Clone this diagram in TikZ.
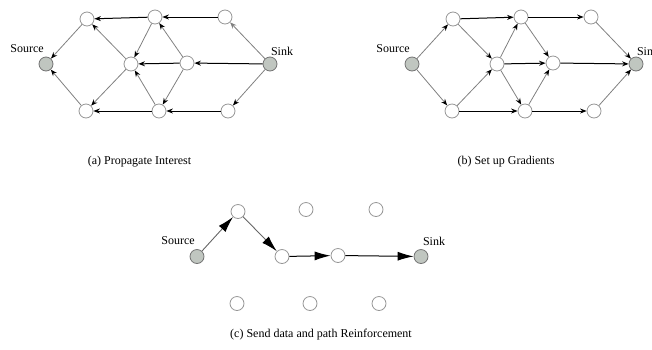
\documentclass[tikz,border=0pt]{standalone}
\usepackage{fontspec}
\setmainfont{Liberation Serif}
\usepackage{xcolor}
\usepackage{tikz}
\usetikzlibrary{arrows.meta}

\definecolor{endfill}{RGB}{192,198,192}
\definecolor{ringgray}{RGB}{150,150,150}

\begin{document}
\begin{tikzpicture}[x=1pt, y=-1pt,
    sensor/.style={circle, draw=ringgray, fill=white, line width=0.8pt,
      minimum size=14pt, inner sep=0pt},
    endpt/.style={sensor, fill=endfill, draw=gray!90!black},
    tag/.style={font=\fontsize{12pt}{14pt}\selectfont, inner sep=0pt},
    weak/.style={draw=gray, line width=0.8pt,
      -{Stealth[length=6.5pt, width=5pt, color=black]}},
    faint/.style={weak, -{Stealth[length=6.5pt, width=5pt, color=gray]}},
    strong/.style={draw=black, line width=1pt,
      -{Stealth[length=6.5pt, width=5pt]}},
    bigweak/.style={draw=gray!80!black, line width=0.9pt,
      -{Latex[length=16pt, width=9pt, color=black]}},
    bigstrong/.style={draw=black, line width=1pt,
      -{Latex[length=16pt, width=9pt]}}]
  \useasboundingbox (0,0) rectangle (652,349);

  % (a) Propagate Interest
  \node[endpt]  (asrc) at (46,64)  {};
  \node[sensor] (atl)  at (87,19)  {};
  \node[sensor] (atm)  at (155,17) {};
  \node[sensor] (atr)  at (225,17) {};
  \node[sensor] (actr) at (131,64) {};
  \node[sensor] (amr)  at (187,63) {};
  \node[endpt]  (asnk) at (270,64) {};
  \node[sensor] (abl)  at (86,111) {};
  \node[sensor] (abm)  at (159,111) {};
  \node[sensor] (abr)  at (228,111) {};
  \node[tag] (asrclbl) at ([shift={(-19,-15)}]asrc) {Source};
  \node[tag] (asnklbl) at ([shift={(12,-13)}]asnk) {Sink};

  \draw[strong] (atm) -- (atl);
  \draw[strong] (atr) -- (atm);
  \draw[faint]  (asnk) -- (atr);
  \draw[weak]   (atl) -- (asrc);
  \draw[weak]   (actr) -- (atl);
  \draw[weak]   (atm) -- (actr);
  \draw[weak]   (amr) -- (atm);
  \draw[strong] (amr) -- (actr);
  \draw[strong] (asnk) -- (amr);
  \draw[weak]   (actr) -- (abl);
  \draw[weak]   (abl) -- (asrc);
  \draw[strong] (abm) -- (abl);
  \draw[strong] (abr) -- (abm);
  \draw[weak]   (asnk) -- (abr);
  \draw[weak]   (abm) -- (actr);
  \draw[weak]   (amr) -- (abm);

  \node[tag] (acap) at (139.5,162) {(a) Propagate Interest};

  % (b) Set up Gradients
  \begin{scope}[shift={(366,0)}]
    \node[endpt]  (bsrc) at (46,64)  {};
    \node[sensor] (btl)  at (87,19)  {};
    \node[sensor] (btm)  at (155,17) {};
    \node[sensor] (btr)  at (225,17) {};
    \node[sensor] (bctr) at (131,64) {};
    \node[sensor] (bmr)  at (187,63) {};
    \node[endpt]  (bsnk) at (270,64) {};
    \node[sensor] (bbl)  at (86,111) {};
    \node[sensor] (bbm)  at (159,111) {};
    \node[sensor] (bbr)  at (228,111) {};
  \end{scope}
  \node[tag] (bsrclbl) at ([shift={(-19,-15)}]bsrc) {Source};
  \node[tag] (bsnklbl) at ([shift={(12,-13)}]bsnk) {Sink};

  \draw[weak]   (bsrc) -- (btl);
  \draw[weak]   (bsrc) -- (bbl);
  \draw[strong] (btl) -- (btm);
  \draw[strong] (btm) -- (btr);
  \draw[weak]   (btr) -- (bsnk);
  \draw[weak]   (btl) -- (bctr);
  \draw[weak]   (bctr) -- (btm);
  \draw[strong] (bctr) -- (bmr);
  \draw[strong] (bmr) -- (bsnk);
  \draw[weak]   (btm) -- (bmr);
  \draw[weak]   (bctr) -- (bbm);
  \draw[weak]   (bbm) -- (bmr);
  \draw[weak]   (bbl) -- (bctr);
  \draw[strong] (bbl) -- (bbm);
  \draw[strong] (bbm) -- (bbr);
  \draw[weak]   (bbr) -- (bsnk);

  \node[tag] (bcap) at (506,162) {(b) Set up Gradients};

  % (c) Send data and path Reinforcement
  \begin{scope}[shift={(151,192.5)}]
    \node[endpt]  (csrc) at (46,64)  {};
    \node[sensor] (ctl)  at (87,19)  {};
    \node[sensor] (ctm)  at (155,17) {};
    \node[sensor] (ctr)  at (225,17) {};
    \node[sensor] (cctr) at (131,64) {};
    \node[sensor] (cmr)  at (187,63) {};
    \node[endpt]  (csnk) at (270,64) {};
    \node[sensor] (cbl)  at (86,111) {};
    \node[sensor] (cbm)  at (159,111) {};
    \node[sensor] (cbr)  at (228,111) {};
  \end{scope}
  \node[tag] (csrclbl) at ([shift={(-19,-16)}]csrc) {Source};
  \node[tag] (csnklbl) at ([shift={(13,-15)}]csnk) {Sink};

  \draw[bigweak]   (csrc) -- (ctl);
  \draw[bigweak]   (ctl) -- (cctr);
  \draw[bigstrong] (cctr) -- (cmr);
  \draw[bigstrong] (cmr) -- (csnk);

  \node[tag] (ccap) at (321,335) {(c) Send data and path Reinforcement};
\end{tikzpicture}
\end{document}
